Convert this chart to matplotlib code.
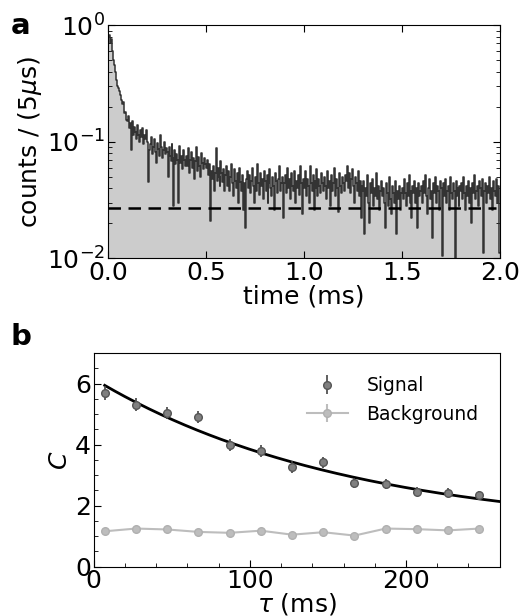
import numpy as np
import matplotlib
matplotlib.use("Agg")
import matplotlib.pyplot as plt
from matplotlib.ticker import MultipleLocator, LogLocator, NullFormatter

# ---------------------------------------------------------------------------
# Panel a: arrival-time histogram, 5 us bins over 2 ms (values in 1e-4 counts)
bin_width_ms = 0.005
counts_e4 = [
    7900, 8300, 7000, 7600, 6000, 5000, 4600, 4000, 3400, 3000, 2900, 2700, 2500, 2300, 2100, 2200, 1900, 1750, 1800, 1550,
    1500, 1650, 1300, 1450, 850, 1500, 1150, 1350, 1200, 1050, 1400, 1150, 1000, 1250, 1100, 1300, 950, 1150, 1050, 1250,
    1000, 450, 850, 950, 1100, 780, 900, 1050, 820, 650, 980, 870, 760, 1150, 900, 720, 840, 1000, 780, 880,
    820, 500, 900, 760, 680, 950, 720, 280, 850, 640, 780, 700, 300, 920, 660, 760, 580, 840, 700, 620,
    760, 620, 880, 540, 700, 820, 600, 720, 480, 680, 900, 560, 740, 620, 500, 800, 660, 580, 720, 640,
    600, 700, 520, 640, 210, 560, 480, 620, 380, 540, 880, 460, 600, 500, 420, 680, 540, 450, 580, 380,
    520, 620, 420, 560, 380, 500, 640, 440, 340, 580, 460, 400, 540, 300, 600, 450, 380, 520, 260, 440,
    180, 480, 560, 400, 520, 360, 460, 600, 420, 300, 500, 380, 640, 440, 350, 540, 420, 480, 320, 560,
    460, 380, 520, 300, 440, 580, 400, 340, 500, 420, 260, 540, 460, 360, 480, 620, 380, 440, 500, 220,
    440, 520, 360, 600, 400, 480, 320, 540, 420, 380, 560, 300, 460, 400, 520, 350, 620, 440, 240, 480,
    400, 560, 340, 480, 420, 300, 620, 440, 380, 520, 260, 460, 400, 580, 340, 480, 420, 360, 540, 440,
    380, 500, 420, 320, 560, 400, 460, 280, 520, 380, 440, 600, 340, 480, 400, 250, 540, 420, 360, 500,
    440, 380, 520, 460, 620, 400, 540, 360, 480, 580, 420, 300, 500, 440, 380, 560, 340, 460, 220, 420,
    380, 460, 160, 400, 340, 520, 300, 200, 440, 360, 480, 280, 400, 340, 540, 320, 420, 260, 380, 460,
    340, 400, 300, 180, 440, 360, 280, 500, 320, 240, 420, 360, 300, 460, 160, 380, 320, 420, 260, 360,
    400, 320, 480, 360, 280, 440, 340, 520, 300, 380, 220, 420, 360, 460, 300, 400, 180, 440, 340, 380,
    420, 300, 460, 360, 520, 340, 240, 400, 480, 320, 380, 150, 440, 360, 500, 300, 420, 380, 260, 460,
    400, 105, 440, 340, 480, 300, 380, 420, 260, 500, 360, 320, 440, 380, 100, 460, 340, 400, 280, 420,
    380, 440, 320, 500, 360, 260, 420, 340, 460, 300, 400, 200, 440, 360, 520, 320, 380, 420, 280, 460,
    400, 340, 480, 110, 380, 440, 300, 420, 360, 500, 320, 400, 260, 460, 380, 340, 480, 300, 420, 110,
]
background_level = 0.027

# Panel b: contrast vs storage time
tau_ms = [7, 27, 47, 67, 87, 107, 127, 147, 167, 187, 207, 227, 247]
signal_c = [5.69, 5.31, 5.04, 4.90, 3.98, 3.80, 3.27, 3.42, 2.74, 2.71, 2.46, 2.42, 2.34]
signal_err = [0.22, 0.22, 0.2, 0.2, 0.2, 0.2, 0.2, 0.18, 0.15, 0.15, 0.15, 0.15, 0.15]
background_c = [1.16, 1.25, 1.22, 1.14, 1.11, 1.18, 1.05, 1.13, 1.02, 1.25, 1.23, 1.19, 1.25]
background_err = [0.05] * 13

# exponential fit C = A exp(-tau / T) + B
fit_A = 5.05
fit_T = 164.0
fit_B = 1.10

plt.rcParams['font.family'] = ['DejaVu Sans']
plt.rcParams['mathtext.fontset'] = 'dejavusans'

fig = plt.figure(figsize=(5.21, 6.16), dpi=100)

# ---------------------------------------------------------------------------
ax1 = fig.add_axes([0.207, 0.581, 0.752, 0.378])
counts = np.array(counts_e4) * 1e-4
edges = np.arange(len(counts) + 1) * bin_width_ms
ax1.fill_between(edges, np.append(counts, counts[-1]), 1e-3, step='post',
                 color='#cccccc', linewidth=0)
ax1.step(edges, np.append(counts, counts[-1]), where='post', color='#333333',
         linewidth=1.1)
ax1.plot([0.0, 1.98], [background_level, background_level], 'k--',
         linewidth=1.8, dashes=(5, 3))
ax1.set_yscale('log')
ax1.set_xlim(0, 2.0)
ax1.set_ylim(1e-2, 1)
ax1.xaxis.set_major_locator(MultipleLocator(0.5))
ax1.yaxis.set_major_locator(LogLocator(base=10, numticks=5))
ax1.yaxis.set_minor_locator(LogLocator(base=10, subs=np.arange(2, 10), numticks=10))
ax1.yaxis.set_minor_formatter(NullFormatter())
ax1.tick_params(which='both', direction='in', top=True, right=True, labelsize=18, pad=2)
ax1.tick_params(which='major', length=5)
ax1.tick_params(which='minor', length=3)
ax1.set_xlabel('time (ms)', fontsize=18, labelpad=0)
ax1.set_ylabel(r'counts / (5$\mu$s)', fontsize=18, labelpad=2)
fig.text(0.02, 0.945, 'a', fontsize=21, fontweight='bold')

# ---------------------------------------------------------------------------
ax2 = fig.add_axes([0.180, 0.080, 0.779, 0.347])
tau_fit = np.linspace(tau_ms[0], 262, 200)
ax2.plot(tau_fit, fit_A * np.exp(-tau_fit / fit_T) + fit_B, color='k', linewidth=2)
ax2.errorbar(tau_ms, signal_c, yerr=signal_err, fmt='o', color='#808080',
             ecolor='#444444', mec='#555555', markersize=5.5, elinewidth=1.2,
             label='Signal')
ax2.errorbar(tau_ms, background_c, yerr=background_err, fmt='-o', color='#bdbdbd',
             ecolor='#bdbdbd', mec='#b0b0b0', markersize=5.5, linewidth=1.5,
             label='Background')
ax2.set_xlim(0, 260)
ax2.set_ylim(0, 7)
ax2.xaxis.set_major_locator(MultipleLocator(100))
ax2.xaxis.set_minor_locator(MultipleLocator(20))
ax2.yaxis.set_major_locator(MultipleLocator(2))
ax2.yaxis.set_minor_locator(MultipleLocator(0.5))
ax2.tick_params(which='both', direction='in', top=False, right=False, labelsize=18, pad=2)
ax2.tick_params(which='major', length=5)
ax2.tick_params(which='minor', length=3)
ax2.set_xlabel(r'$\tau$ (ms)', fontsize=18, labelpad=-2)
ax2.set_ylabel(r'$C$', fontsize=18, labelpad=2)
ax2.legend(loc='upper right', frameon=False, fontsize=13.5,
           bbox_to_anchor=(0.99, 0.97), handlelength=2.2, handletextpad=1.0)
fig.text(0.02, 0.44, 'b', fontsize=21, fontweight='bold')

fig.savefig('out.png', dpi=100)
